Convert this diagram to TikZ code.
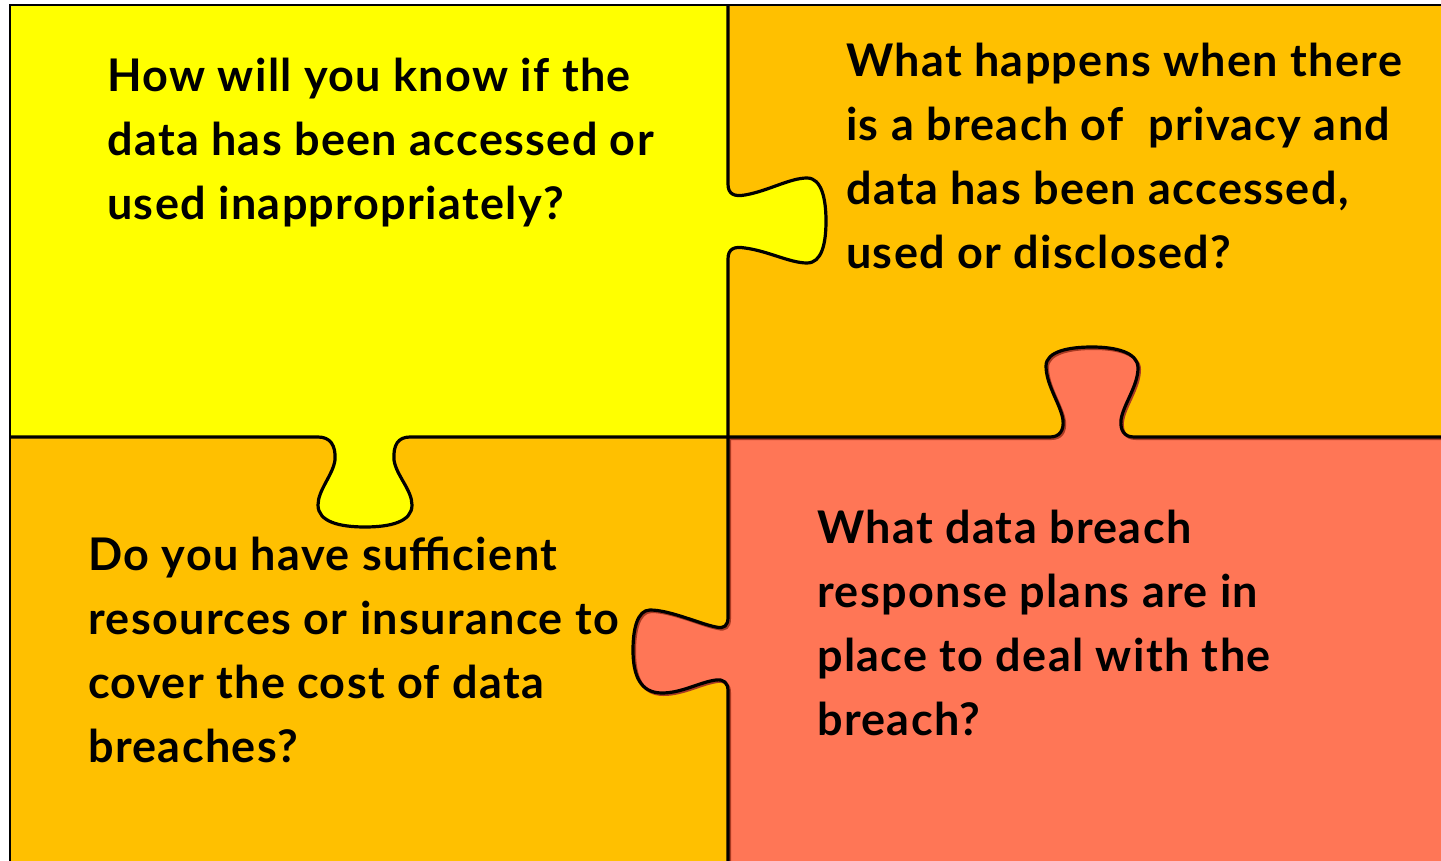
\documentclass[tikz,border=0pt]{standalone}
\usepackage{fontspec}
\setmainfont{Lato}[UprightFont=* Bold,LetterSpace=3]
\begin{document}
\begin{tikzpicture}[x=1pt,y=-1pt,
  edge/.style={line width=3.2pt,line join=round,draw=black},
  frame/.style={line width=2.6pt,draw=black},
  shade/.style={line width=2.8pt,draw=darkred,line join=round},
  question/.style={anchor=base west,align=left,inner sep=0pt,
    font=\fontsize{45}{64}\selectfont,text=black}]
\definecolor{yellowp}{HTML}{FFFF00}
\definecolor{orangep}{HTML}{FFC000}
\definecolor{redp}{HTML}{FF7656}
\definecolor{darkred}{HTML}{A83A22}
\useasboundingbox (0,0) rectangle (1441,861);
\fill[white] (0,0) rectangle (1441,861);

% tab outlines: each runs along its divider and bulges into the neighbour
\newcommand\tabEast{(728,184) .. controls (728,194) and (734,197) .. (745,195)
  .. controls (768,191) and (790,178) .. (807,178)
  .. controls (822,178) and (826,200) .. (826,221)
  .. controls (826,243) and (822,263) .. (807,263)
  .. controls (790,263) and (768,251) .. (745,248)
  .. controls (734,246) and (728,249) .. (728,259)}
\newcommand\tabSouth{(318,437) .. controls (330,437) and (336,445) .. (335,460)
  .. controls (333,475) and (318,490) .. (318,505)
  .. controls (318,522) and (340,527) .. (365,527)
  .. controls (390,527) and (412,522) .. (412,505)
  .. controls (412,490) and (396,475) .. (394,460)
  .. controls (393,445) and (398,437) .. (410,437)}
\newcommand\tabNorth{(1050,437) .. controls (1060,437) and (1064,430) .. (1063,420)
  .. controls (1061,405) and (1046,385) .. (1046,366)
  .. controls (1046,351) and (1070,347) .. (1092,347)
  .. controls (1115,347) and (1138,352) .. (1138,368)
  .. controls (1138,386) and (1123,405) .. (1121,420)
  .. controls (1120,430) and (1124,437) .. (1134,437)}
\newcommand\tabWest{(728,617) .. controls (728,626) and (724,629) .. (716,627)
  .. controls (700,624) and (670,610) .. (650,610)
  .. controls (637,610) and (633,630) .. (633,650)
  .. controls (633,675) and (640,693) .. (662,693)
  .. controls (682,693) and (700,682) .. (716,680)
  .. controls (724,679) and (728,683) .. (728,691)}

% piece colours
\fill[orangep] (10,5) rectangle (1441,861);
\fill[yellowp] (10,5) rectangle (728,437);
\fill[yellowp] \tabEast -- cycle;
\fill[yellowp] \tabSouth -- cycle;
\fill[redp] (728,437) rectangle (1441,861);
\fill[redp] \tabNorth -- cycle;
\fill[redp] \tabWest -- cycle;

% dark rim along the red piece
\begin{scope}[shift={(1.6,1.6)}]
  \draw[shade] (728,437) -- \tabNorth -- (1441,437);
  \draw[shade] (728,437) -- \tabWest -- (728,861);
\end{scope}

% piece borders
\draw[frame] (10,861) -- (10,5) -- (1441,5);
\draw[edge] (728,5) -- \tabEast -- (728,437);
\draw[edge] (10,437) -- \tabSouth -- (728,437);
\draw[edge] (728,437) -- \tabNorth -- (1441,437);
\draw[edge] (728,437) -- \tabWest -- (728,861);

% questions (anchored on the baseline of their last line)
\node[question] (qknow) at (107,220) {How will you know if the\\data has been accessed or\\used inappropriately?};
\node[question] (qbreach) at (846,269) {What happens when there\\is a breach of \ privacy and\\data has been accessed,\\used or disclosed?};
\node[question] (qcost) at (88,762) {Do you have sufficient\\resources or insurance to\\cover the cost of data\\breaches?};
\node[question] (qplan) at (817,735) {What data breach\\response plans are in\\place to deal with the\\breach?};
\end{tikzpicture}
\end{document}
